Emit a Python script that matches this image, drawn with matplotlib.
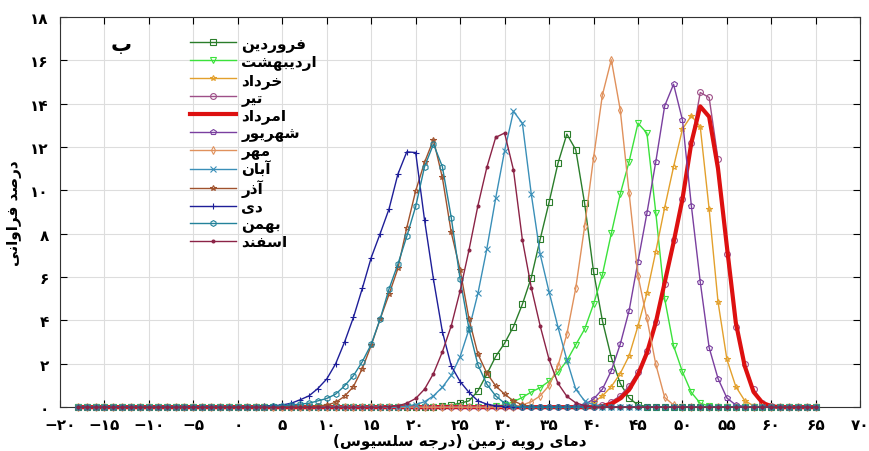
import numpy as np
import matplotlib
matplotlib.use("Agg")
import matplotlib.pyplot as plt

# دما (درجه سلسیوس) - نقاط هر منحنی
temps = np.arange(-18, 66)

# مقادیر خوانده شده از نمودار: دمای شروع + درصد فراوانی (بقیه صفر)
farvardin_start = 22
farvardin = [0.03, 0.06, 0.1, 0.18, 0.29, 0.75, 1.52, 2.34, 2.95, 3.72, 4.75, 5.98, 7.75,
             9.45, 11.25, 12.6, 11.88, 9.4, 6.26, 3.98, 2.29, 1.1, 0.42, 0.1, 0.03]
ordibehesht_start = 28
ordibehesht = [0.03, 0.06, 0.1, 0.25, 0.45, 0.7, 0.9, 1.2, 1.6, 2.14, 2.88, 3.6, 4.75, 6.12,
               8.02, 9.83, 11.33, 13.1, 12.65, 8.98, 5.0, 2.83, 1.63, 0.68, 0.18, 0.05]
khordad_start = 38
khordad = [0.03, 0.08, 0.22, 0.52, 0.95, 1.55, 2.37, 3.75, 5.25, 7.18, 9.21, 11.09, 12.83,
           13.45, 12.94, 9.14, 4.86, 2.2, 0.95, 0.3, 0.06]
tir_start = 40
tir = [0.03, 0.09, 0.25, 0.52, 0.98, 1.63, 2.6, 3.94, 5.68, 7.7, 9.62, 12.2, 14.52, 14.29,
       11.45, 7.06, 3.7, 1.98, 0.83, 0.2, 0.05]
amordad_start = 41
amordad = [0.05, 0.15, 0.4, 0.8, 1.5, 2.5, 3.9, 5.75, 7.6, 9.6, 12.2, 13.88, 13.4, 11.0,
           7.4, 3.9, 1.9, 0.7, 0.2, 0.04]
shahrivar_start = 38
shahrivar = [0.04, 0.12, 0.37, 0.83, 1.68, 2.9, 4.45, 6.72, 8.94, 11.32, 13.9, 14.9, 13.25,
             9.3, 5.78, 2.75, 1.32, 0.42, 0.1, 0.03]
mehr_start = 31
mehr = [0.03, 0.1, 0.25, 0.52, 1.0, 1.9, 3.37, 5.49, 8.34, 11.5, 14.41, 16.03, 13.73, 9.88,
        6.06, 4.1, 1.98, 0.45, 0.1, 0.03]
aban_start = 19
aban = [0.05, 0.12, 0.25, 0.52, 0.92, 1.47, 2.33, 3.6, 5.25, 7.3, 9.65, 11.83, 13.65, 13.1,
        9.83, 7.06, 5.32, 3.7, 2.18, 0.83, 0.29, 0.1, 0.03]
azar_start = 8
azar = [0.03, 0.05, 0.1, 0.22, 0.5, 0.95, 1.78, 2.85, 4.06, 5.2, 6.4, 8.28, 9.98, 11.3,
        12.34, 10.6, 8.06, 6.34, 4.06, 2.45, 1.57, 0.98, 0.6, 0.29, 0.1, 0.03]
dey_start = 3
dey = [0.05, 0.07, 0.1, 0.18, 0.34, 0.52, 0.86, 1.3, 2.0, 3.0, 4.14, 5.48, 6.9, 8.0, 9.14,
       10.75, 11.78, 11.75, 8.63, 5.9, 3.49, 1.9, 1.18, 0.68, 0.29, 0.14, 0.06, 0.03]
bahman_start = 3
bahman = [0.03, 0.05, 0.07, 0.1, 0.14, 0.18, 0.29, 0.4, 0.6, 0.98, 1.45, 2.1, 2.9, 4.06,
          5.45, 6.6, 7.88, 9.26, 11.1, 12.14, 11.1, 8.75, 5.9, 3.6, 1.95, 1.06, 0.52, 0.18, 0.05]
esfand_start = 17
esfand = [0.03, 0.06, 0.18, 0.4, 0.83, 1.55, 2.55, 3.75, 5.37, 7.26, 9.3, 11.06, 12.45,
          12.65, 10.94, 7.72, 5.52, 3.75, 2.2, 1.1, 0.5, 0.2, 0.07]

month_names = ["فروردین", "اردیبهشت", "خرداد", "تیر", "امرداد", "شهریور",
               "مهر", "آبان", "آذر", "دی", "بهمن", "اسفند"]

# شکل حروف فارسی (matplotlib حروف را به هم نمی چسباند)
FORMS = {
    "ا": (0xFE8D, 0xFE8E), "آ": (0xFE81, 0xFE82), "د": (0xFEA9, 0xFEAA),
    "ذ": (0xFEAB, 0xFEAC), "ر": (0xFEAD, 0xFEAE), "ز": (0xFEAF, 0xFEB0),
    "و": (0xFEED, 0xFEEE),
    "ب": (0xFE8F, 0xFE90, 0xFE91, 0xFE92), "ت": (0xFE95, 0xFE96, 0xFE97, 0xFE98),
    "ج": (0xFE9D, 0xFE9E, 0xFE9F, 0xFEA0), "خ": (0xFEA5, 0xFEA6, 0xFEA7, 0xFEA8),
    "س": (0xFEB1, 0xFEB2, 0xFEB3, 0xFEB4), "ش": (0xFEB5, 0xFEB6, 0xFEB7, 0xFEB8),
    "ص": (0xFEB9, 0xFEBA, 0xFEBB, 0xFEBC), "ف": (0xFED1, 0xFED2, 0xFED3, 0xFED4),
    "ل": (0xFEDD, 0xFEDE, 0xFEDF, 0xFEE0), "م": (0xFEE1, 0xFEE2, 0xFEE3, 0xFEE4),
    "ن": (0xFEE5, 0xFEE6, 0xFEE7, 0xFEE8), "ه": (0xFEE9, 0xFEEA, 0xFEEB, 0xFEEC),
    "\u06cc": (0xFEEF, 0xFEF0, 0xFEF3, 0xFEF4), "\u064a": (0xFEEF, 0xFEF0, 0xFEF3, 0xFEF4),
}


def fa(text):
    out = []
    for i, ch in enumerate(text):
        if ch not in FORMS:
            out.append(ch)
            continue
        prev = text[i - 1] if i > 0 else ""
        nxt = text[i + 1] if i + 1 < len(text) else ""
        f = FORMS[ch]
        jp = prev in FORMS and len(FORMS[prev]) == 4
        jn = len(f) == 4 and nxt in FORMS
        if jp and jn:
            code = f[3]
        elif jp:
            code = f[1]
        elif jn:
            code = f[2]
        else:
            code = f[0]
        out.append(chr(code))
    s = "".join(out)[::-1]
    return s.translate(str.maketrans("()", ")("))


def fa_num(v):
    s = str(abs(v)).translate(str.maketrans("0123456789", "۰۱۲۳۴۵۶۷۸۹"))
    return "−" + s if v < 0 else s


def full(start, vals):
    y = np.zeros(len(temps))
    i = start - temps[0]
    y[i:i + len(vals)] = vals
    return y


plt.rcParams["font.family"] = ["DejaVu Sans"]
plt.rcParams["font.weight"] = "bold"

fig = plt.figure(figsize=(8.69, 4.52), dpi=100)
ax = fig.add_axes([0.069, 0.097, 0.921, 0.863])

series = [
    (farvardin_start, farvardin, "#2a7d2a", "s", 1.0),
    (ordibehesht_start, ordibehesht, "#3be23b", "v", 1.0),
    (khordad_start, khordad, "#e3a02c", "*", 1.0),
    (tir_start, tir, "#9e4f88", "o", 1.0),
    (amordad_start, amordad, "#dd1010", "", 3.0),
    (shahrivar_start, shahrivar, "#7a3f9f", "p", 1.0),
    (mehr_start, mehr, "#e0915c", "d", 1.0),
    (aban_start, aban, "#3a8fb8", "x", 1.0),
    (azar_start, azar, "#a0522d", "*", 1.0),
    (dey_start, dey, "#1e1e98", "+", 1.0),
    (bahman_start, bahman, "#23829a", "h", 1.0),
    (esfand_start, esfand, "#8b2346", ".", 1.0),
]

for (start, vals, color, mk, lw), name in zip(series, month_names):
    ax.plot(temps, full(start, vals), color=color, lw=lw, marker=mk if mk else None,
            markersize=4.2, mfc="none" if mk != "." else color, mew=0.8,
            label=fa(name), clip_on=False, zorder=3)

ax.set_xlim(-20, 70)
ax.set_ylim(0, 18)
xt = list(range(-20, 71, 5))
yt = list(range(0, 19, 2))
ax.set_xticks(xt)
ax.set_xticklabels([fa_num(t) for t in xt], fontsize=11, fontweight="bold")
ax.set_yticks(yt)
ax.set_yticklabels([fa_num(t) for t in yt], fontsize=11, fontweight="bold")
ax.tick_params(direction="in", top=True, right=True, length=5, width=0.8)
ax.tick_params(axis="x", pad=7)
ax.tick_params(axis="y", pad=8)
ax.grid(True, color="#dddddd", lw=0.8, zorder=0)
ax.set_axisbelow(True)
for sp in ax.spines.values():
    sp.set_color("#333333")
    sp.set_linewidth(0.8)

ax.set_xlabel(fa("دمای رویه زمین (درجه سلسیوس)"), fontsize=11, fontweight="bold", labelpad=1)
ax.set_ylabel(fa("درصد فراوانی"), fontsize=11, fontweight="bold", labelpad=6)
ax.text(0.077, 0.93, fa("ب"), transform=ax.transAxes, fontsize=15, fontweight="bold",
        ha="center", va="center")

leg = ax.legend(loc="upper left", bbox_to_anchor=(0.1625, 0.952), frameon=False,
                fontsize=11, handlelength=3.0, handletextpad=0.35, labelspacing=0.13,
                borderaxespad=0, borderpad=0)
for t in leg.get_texts():
    t.set_fontweight("bold")

fig.savefig("out.png", dpi=100)
